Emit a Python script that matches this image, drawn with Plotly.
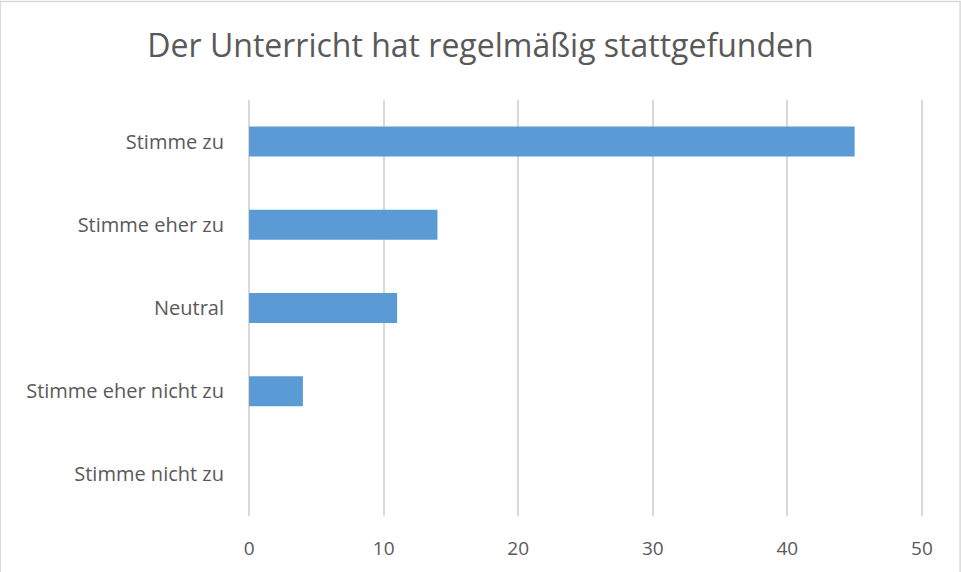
import plotly.graph_objects as go

categories = ["Stimme zu", "Stimme eher zu", "Neutral", "Stimme eher nicht zu", "Stimme nicht zu"]
values = [45, 14, 11, 4, 0]
x_ticks = [0, 10, 20, 30, 40, 50]

W, H = 961, 572
L, R, T, B = 249, 39, 100, 56
TEXT = '#595959'
GRID = '#d9d9d9'
FONT = 'Open Sans'

fig = go.Figure()
fig.add_trace(go.Bar(x=values, y=categories, orientation='h',
                     marker=dict(color='#5b9bd5', line=dict(width=0)),
                     width=0.36, hoverinfo='x+y'))

pw, ph = W - L - R, H - T - B
# chart border (outside the plot area, in paper units)
fig.add_shape(type='rect', xref='paper', yref='paper',
              x0=(2 - L) / pw, x1=(959 - L) / pw,
              y0=-(H + 5 - T - ph) / ph, y1=(H - 1.5 - B) / ph,
              line=dict(color=GRID, width=1.5), layer='below')

fig.update_layout(
    width=W, height=H,
    margin=dict(l=L - 1, r=R - 1, t=T, b=B),
    title=dict(text='Der Unterricht hat regelmäßig stattgefunden',
               x=0.5, xref='container', xanchor='center', y=1 - 46 / H, yanchor='middle',
               font=dict(family=FONT, size=32, color=TEXT)),
    font=dict(family=FONT, size=20, color=TEXT),
    plot_bgcolor='white', paper_bgcolor='white',
    showlegend=False,
)
# range padded a hair so the 0 and 50 gridlines are drawn
fig.update_xaxes(range=[-0.08, 50.08], tickvals=x_ticks, showgrid=True, gridcolor=GRID, gridwidth=1.5,
                 zeroline=False, showline=False, ticks='', ticklabelstandoff=19,
                 tickfont=dict(family=FONT, size=19, color=TEXT))
fig.update_yaxes(categoryorder='array', categoryarray=categories, autorange='reversed',
                 showgrid=False, zeroline=False, showline=False, ticks='',
                 ticklabelstandoff=23, tickfont=dict(family=FONT, size=20, color=TEXT))

fig.write_html("out.html", config={'displayModeBar': False},
               post_script="document.body.style.margin='0';")
